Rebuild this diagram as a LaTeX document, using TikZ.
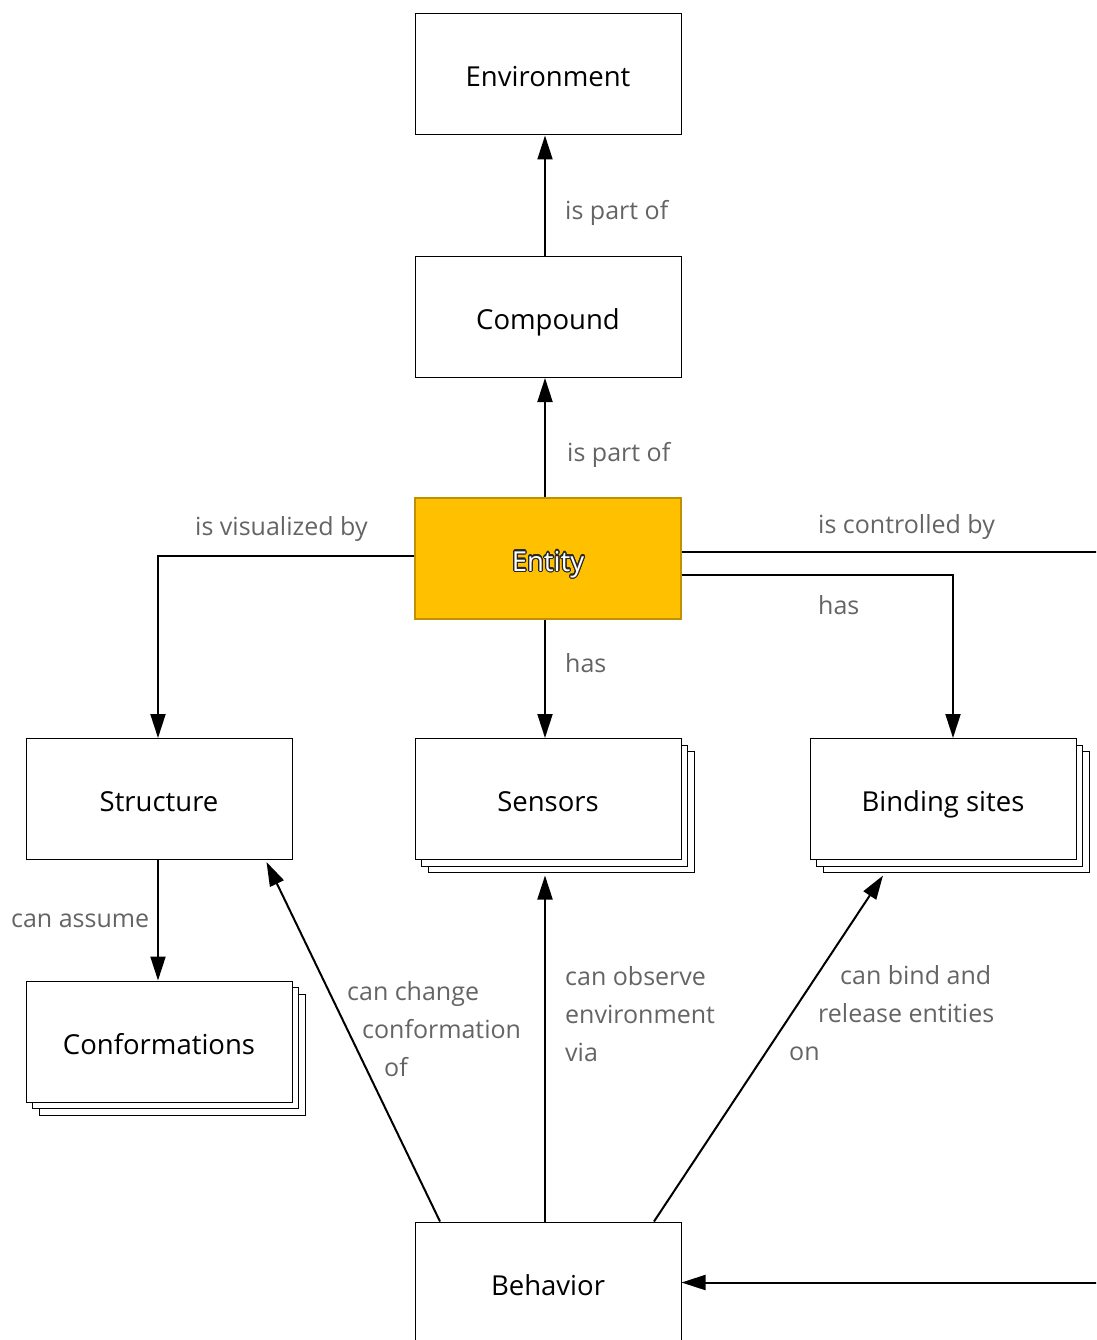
\documentclass[tikz,border=0pt]{standalone}
\usepackage{fontspec}
\setmainfont{Open Sans}
\usepackage{contour}
\contourlength{1.2pt}
\usetikzlibrary{arrows.meta,shadows}

\definecolor{lblgray}{RGB}{100,100,100}
\definecolor{entfill}{RGB}{255,192,0}
\definecolor{entdraw}{RGB}{191,144,0}

\begin{document}
\begin{tikzpicture}[x=1pt,y=-1pt,
  box/.style={draw=black,line width=1pt,fill=white,minimum width=266pt,
    minimum height=121pt,inner sep=0pt,text height=26pt,text depth=1pt,
    font=\fontsize{27.5}{30}\selectfont},
  stackbox/.style={box,
    general shadow={shadow xshift=13pt,shadow yshift=-13pt,fill=white,draw=black,line width=1pt},
    general shadow={shadow xshift=6.5pt,shadow yshift=-6.5pt,fill=white,draw=black,line width=1pt}},
  conn/.style={line width=2pt,-{Triangle[length=24pt,width=15pt]}},
  link/.style={line width=2pt},
  lbl/.style={text=lblgray,font=\fontsize{25}{38}\selectfont,inner sep=0pt,
    anchor=west,align=left,yshift=-0.5pt}
]
\clip (0,0) rectangle (1096,1340);
\useasboundingbox (0,0) rectangle (1096,1340);

% concept boxes
\node[box] (env) at (548,74.5) {Environment};
\node[box] (comp) at (548,317) {Compound};
\node[box,fill=entfill,draw=entdraw,line width=2pt,text=white] (ent) at (548,558.5) {\contour{black!85}{Entity}};
\node[box] (struct) at (159,799) {Structure};
\node[stackbox] (sens) at (548,799) {Sensors};
\node[stackbox] (bind) at (943,799) {Binding sites};
\node[stackbox] (conf) at (159,1041.5) {Conformations};
\node[box] (beh) at (548,1282.5) {Behavior};

% connections leaving the page
\coordinate (ctrl) at (1100,552);
\coordinate (ctrlin) at (1100,1282.5);

% connectors
\draw[conn] ([xshift=-3pt]comp.north) -- ([xshift=-3pt]env.south);
\draw[conn] ([xshift=-3pt]ent.north) -- ([xshift=-3pt]comp.south);
\draw[conn] ([yshift=2.5pt]ent.west) -| ([xshift=-1pt]struct.north);
\draw[link] ([yshift=6.5pt]ent.east) -- (ctrl);
\draw[conn] ([yshift=-16.5pt]ent.east) -| ([xshift=10pt]bind.north);
\draw[conn] ([xshift=-3pt]ent.south) -- ([xshift=-3pt]sens.north);
\draw[conn] ([xshift=-1pt]struct.south) -- ([xshift=-1pt]conf.north);
\draw[conn] ([xshift=-108pt]beh.north) -- ([xshift=-26pt,yshift=-2pt]struct.south east);
\draw[conn] ([xshift=-3pt]beh.north) -- ([xshift=-3pt,yshift=-15.5pt]sens.south);
\draw[conn] ([xshift=106pt]beh.north) -- ([xshift=-60pt,yshift=-15.5pt]bind.south);
\draw[conn] (ctrlin) -- (beh.east);

% connector labels
\node[lbl] (l1) at (565,212) {is part of};
\node[lbl] (l2) at (567,454) {is part of};
\node[lbl] (l3) at (195,529) {is visualized by};
\node[lbl] (l4) at (818,527) {is controlled by};
\node[lbl] (l5) at (818,605) {has};
\node[lbl] (l6) at (565,663) {has};
\node[lbl] (l7) at (11,920) {can assume};
\node[lbl] (l8) at (347,1029) {can change\\\hspace*{15pt}conformation\\\hspace*{37pt}of};
\node[lbl] (l9) at (565,1014) {can observe\\environment\\via};
\node[lbl] (l10) at (789,1013) {\hspace*{51pt}can bind and\\\hspace*{29pt}release entities\\on};
\end{tikzpicture}
\end{document}
